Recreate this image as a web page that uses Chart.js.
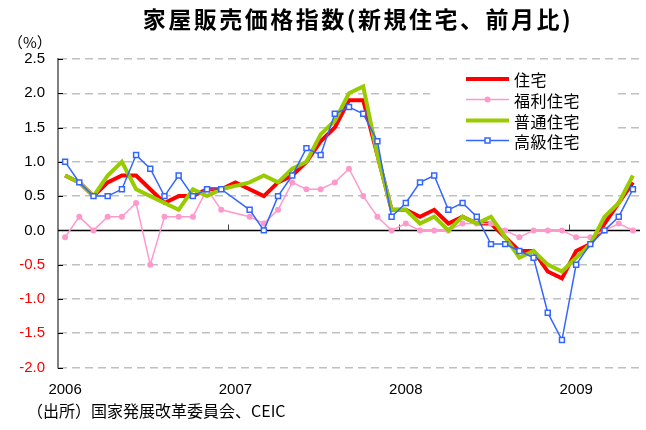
<!DOCTYPE html>
<html>
<head>
<meta charset="utf-8">
<script src="https://cdn.jsdelivr.net/npm/chart.js@4.4.1/dist/chart.umd.min.js"></script>
<style>
  html, body { margin: 0; padding: 0; background: #fff; }
  #chart { display: block; }
</style>
</head>
<body>
<canvas id="chart" width="646" height="430"></canvas>
<script>
// Months, Jan 2006 - May 2009
const months = [
    '2006-01', '2006-02', '2006-03', '2006-04', '2006-05', '2006-06', '2006-07', '2006-08', '2006-09', '2006-10', '2006-11', '2006-12',
    '2007-01', '2007-02', '2007-03', '2007-04', '2007-05', '2007-06', '2007-07', '2007-08', '2007-09', '2007-10', '2007-11', '2007-12',
    '2008-01', '2008-02', '2008-03', '2008-04', '2008-05', '2008-06', '2008-07', '2008-08', '2008-09', '2008-10', '2008-11', '2008-12',
    '2009-01', '2009-02', '2009-03', '2009-04', '2009-05'
];

// Month-on-month change, %
const housing = [
    0.8, 0.7, 0.5, 0.7, 0.8, 0.8, 0.6, 0.4, 0.5, 0.5, 0.6, 0.6,
    0.7, 0.6, 0.5, 0.7, 0.8, 1.0, 1.3, 1.5, 1.9, 1.9, 1.1, 0.3,
    0.3, 0.2, 0.3, 0.1, 0.2, 0.1, 0.1, -0.1, -0.3, -0.3, -0.6, -0.7,
    -0.3, -0.2, 0.1, 0.4, 0.7
];
const welfare = [
    -0.1, 0.2, 0.0, 0.2, 0.2, 0.4, -0.5, 0.2, 0.2, 0.2, 0.6, 0.3,
    null, 0.2, 0.1, 0.3, 0.7, 0.6, 0.6, 0.7, 0.9, 0.5, 0.2, 0.0,
    0.1, 0.0, 0.0, 0.0, 0.1, 0.1, 0.1, 0.0, -0.1, 0.0, 0.0, 0.0,
    -0.1, -0.1, 0.0, 0.1, 0.0
];
const ordinary = [
    0.8, 0.7, 0.5, 0.8, 1.0, 0.6, 0.5, 0.4, 0.3, 0.6, 0.5, 0.6,
    0.65, 0.7, 0.8, 0.7, 0.9, 1.0, 1.4, 1.6, 2.0, 2.1, 1.1, 0.3,
    0.3, 0.1, 0.2, 0.0, 0.2, 0.1, 0.2, -0.1, -0.4, -0.3, -0.5, -0.6,
    -0.4, -0.2, 0.2, 0.4, 0.8
];
const luxury = [
    1.0, 0.7, 0.5, 0.5, 0.6, 1.1, 0.9, 0.5, 0.8, 0.5, 0.6, 0.6,
    null, 0.3, 0.0, 0.5, 0.8, 1.2, 1.1, 1.7, 1.8, 1.7, 1.3, 0.2,
    0.4, 0.7, 0.8, 0.3, 0.4, 0.2, -0.2, -0.2, -0.3, -0.4, -1.2, -1.6,
    -0.5, -0.2, 0.0, 0.2, 0.6
];

const CJK = "'Noto Sans CJK JP', sans-serif";
const NUM = "'Liberation Sans', Arial, sans-serif";

/**
 * Zero line, tick marks, title, notes and the legend box
 */
const overlay = {
    id: 'overlay',
    beforeDatasetsDraw(chart) {
        const { ctx, chartArea: a, scales: { x, y } } = chart;
        ctx.save();

        // legend backdrop covers the gridlines
        ctx.fillStyle = '#ffffff';
        ctx.fillRect(430, 63, 183, 89);

        // zero line
        const y0 = Math.round(y.getPixelForValue(0)) + 0.5;
        ctx.strokeStyle = '#000000';
        ctx.lineWidth = 1.5;
        ctx.beginPath();
        ctx.moveTo(a.left, y0);
        ctx.lineTo(a.right, y0);
        ctx.stroke();

        // year ticks on the zero line
        const half = (x.getPixelForValue(1) - x.getPixelForValue(0)) / 2;
        ctx.lineWidth = 1;
        ctx.strokeStyle = '#404040';
        months.forEach((m, i) => {
            if (i > 0 && m.endsWith('-01')) {
                const px = Math.round(x.getPixelForValue(i) - half) + 0.5;
                ctx.beginPath();
                ctx.moveTo(px, y0 - 6);
                ctx.lineTo(px, y0);
                ctx.stroke();
            }
        });

        // inner ticks on the value axis
        ctx.strokeStyle = '#000000';
        y.ticks.forEach(t => {
            const py = Math.round(y.getPixelForValue(t.value)) + 0.5;
            ctx.beginPath();
            ctx.moveTo(a.left, py);
            ctx.lineTo(a.left + 5, py);
            ctx.stroke();
        });
        ctx.restore();
    },
    afterDraw(chart) {
        const ctx = chart.ctx;
        ctx.save();
        ctx.fillStyle = '#000000';
        ctx.textBaseline = 'middle';

        // title
        ctx.font = `bold 23px ${CJK}`;
        ctx.letterSpacing = '2.5px';
        ctx.textAlign = 'center';
        ctx.fillText('家屋販売価格指数(新規住宅、前月比)', 358, 19);

        ctx.letterSpacing = '0px';
        ctx.textAlign = 'left';
        ctx.font = `15px ${CJK}`;
        ctx.fillText('（%）', 8, 42);
        ctx.font = `16px ${CJK}`;
        ctx.fillText('（出所）国家発展改革委員会、CEIC', 27, 411);

        // legend
        const rows = [79, 99.5, 120.5, 140.5];
        chart.data.datasets.forEach((ds, i) => {
            const ry = rows[i];
            ctx.strokeStyle = ds.borderColor;
            ctx.lineWidth = ds.borderWidth;
            ctx.beginPath();
            ctx.moveTo(466, ry);
            ctx.lineTo(509, ry);
            ctx.stroke();
            if (ds.pointRadius > 0) {
                ctx.fillStyle = ds.backgroundColor;
                ctx.strokeStyle = ds.borderColor;
                ctx.lineWidth = ds.pointBorderWidth;
                ctx.beginPath();
                if (ds.pointStyle === 'rect') {
                    const s = ds.pointRadius * Math.SQRT1_2;
                    ctx.rect(487.5 - s, ry - s, 2 * s, 2 * s);
                    ctx.fill();
                    ctx.stroke();
                } else {
                    ctx.arc(487.5, ry, ds.pointRadius, 0, Math.PI * 2);
                    ctx.fill();
                }
            }
            ctx.fillStyle = '#000000';
            ctx.font = `16px ${CJK}`;
            ctx.letterSpacing = '0.5px';
            ctx.fillText(ds.label, 514, ry + 1);
        });
        ctx.restore();
    }
};

const ctx = document.getElementById('chart').getContext('2d');

new Chart(ctx, {
    type: 'line',
    data: {
        labels: months,
        datasets: [
            {
                label: '住宅',
                data: housing,
                borderColor: '#ff0000',
                backgroundColor: '#ff0000',
                borderWidth: 4,
                pointRadius: 0,
                order: 4
            },
            {
                label: '福利住宅',
                data: welfare,
                borderColor: '#ff99cc',
                backgroundColor: '#ff99cc',
                borderWidth: 1.5,
                pointStyle: 'circle',
                pointRadius: 3,
                pointBorderWidth: 0,
                spanGaps: true,
                order: 3
            },
            {
                label: '普通住宅',
                data: ordinary,
                borderColor: '#99cc00',
                backgroundColor: '#99cc00',
                borderWidth: 4,
                pointRadius: 0,
                order: 2
            },
            {
                label: '高級住宅',
                data: luxury,
                borderColor: '#3366ff',
                backgroundColor: '#ffffff',
                borderWidth: 1.5,
                pointStyle: 'rect',
                pointRadius: 3.5,
                pointBorderWidth: 1.5,
                spanGaps: true,
                order: 1
            }
        ]
    },
    options: {
        responsive: false,
        animation: false,
        devicePixelRatio: 1,
        layout: {
            padding: { top: 59, right: 3, bottom: 22.5, left: 0 }
        },
        elements: {
            line: { tension: 0 }
        },
        plugins: {
            legend: { display: false },
            title: { display: false },
            tooltip: { enabled: false }
        },
        scales: {
            x: {
                type: 'category',
                offset: true,
                grid: { display: false, drawTicks: false },
                border: { display: false },
                ticks: {
                    autoSkip: false,
                    maxRotation: 0,
                    padding: 13,
                    color: '#000000',
                    font: { family: NUM, size: 15 },
                    callback: function(value, index) {
                        const m = months[index];
                        return m.endsWith('-01') ? m.slice(0, 4) : '';
                    }
                },
                afterFit: function(scale) {
                    scale.height = 40;
                }
            },
            y: {
                min: -2,
                max: 2.5,
                grid: {
                    color: function(c) {
                        return Math.abs(c.tick.value) < 1e-9 ? 'rgba(0,0,0,0)' : '#c0c0c0';
                    },
                    lineWidth: 1.5,
                    drawTicks: false
                },
                border: { color: '#808080', width: 2, dash: [8, 5] },
                ticks: {
                    stepSize: 0.5,
                    padding: 13,
                    color: function(c) {
                        return c.tick.value < 0 ? '#ff0000' : '#000000';
                    },
                    font: { family: NUM, size: 15 },
                    callback: function(value) {
                        return value.toFixed(1);
                    }
                },
                afterFit: function(scale) {
                    scale.width = 58;
                }
            }
        }
    },
    plugins: [overlay]
});
</script>
</body>
</html>
